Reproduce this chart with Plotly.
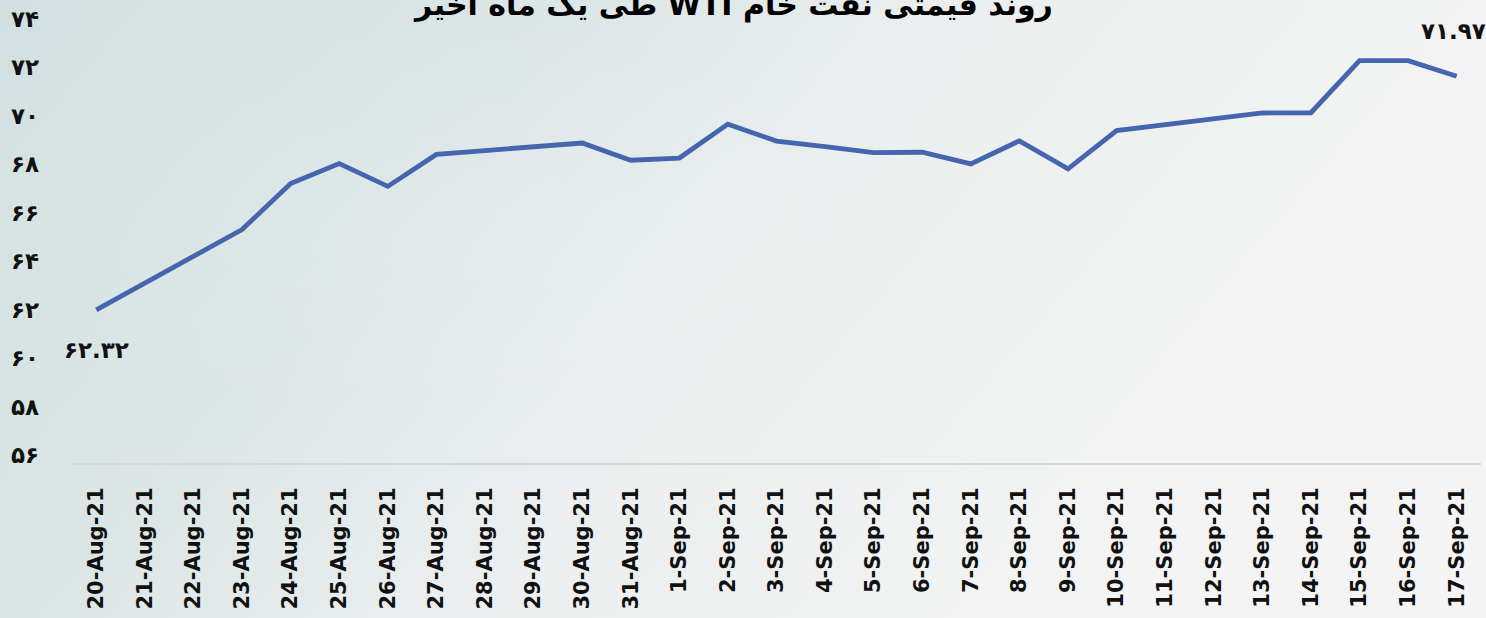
import base64
import plotly.graph_objects as go

# ---- data ----
dates = ["20-Aug-21", "21-Aug-21", "22-Aug-21", "23-Aug-21", "24-Aug-21", "25-Aug-21",
         "26-Aug-21", "27-Aug-21", "28-Aug-21", "29-Aug-21", "30-Aug-21", "31-Aug-21",
         "1-Sep-21", "2-Sep-21", "3-Sep-21", "4-Sep-21", "5-Sep-21", "6-Sep-21",
         "7-Sep-21", "8-Sep-21", "9-Sep-21", "10-Sep-21", "11-Sep-21", "12-Sep-21",
         "13-Sep-21", "14-Sep-21", "15-Sep-21", "16-Sep-21", "17-Sep-21"]
prices = [62.32, 63.43, 64.54, 65.64, 67.54, 68.36,
          67.42, 68.74, 68.90, 69.05, 69.21, 68.50,
          68.59, 69.99, 69.29, 69.06, 68.81, 68.83,
          68.35, 69.30, 68.14, 69.72, 69.96, 70.21,
          70.45, 70.46, 72.61, 72.61, 71.97]
y_ticks = [56, 58, 60, 62, 64, 66, 68, 70, 72, 74]
title_text = "روند قیمتی نفت خام WTI طی یک ماه اخیر"

FA = str.maketrans("0123456789", "۰۱۲۳۴۵۶۷۸۹")


def fa(s):
    return str(s).translate(FA)


def rtl(s):
    return "\u202B" + s + "\u202C"


W, H = 1486, 618
ML, MR, MT, MB = 72, 5, 27, 155
PW, PH = W - ML - MR, H - MT - MB

svg = f'''<svg xmlns="http://www.w3.org/2000/svg" width="{W}" height="{H}">
<defs>
<linearGradient id="g" x1="0" y1="0" x2="1" y2="0.35">
<stop offset="0" stop-color="#d0e0e0"/>
<stop offset="0.35" stop-color="#dde6e6"/>
<stop offset="0.6" stop-color="#ecefef"/>
<stop offset="1" stop-color="#f4f4f4"/>
</linearGradient>
<radialGradient id="r" cx="0.28" cy="0.35" r="0.35">
<stop offset="0" stop-color="#ffffff" stop-opacity="0.10"/>
<stop offset="1" stop-color="#ffffff" stop-opacity="0"/>
</radialGradient>
</defs>
<rect width="{W}" height="{H}" fill="url(#g)"/>
<rect width="{W}" height="{H}" fill="url(#r)"/>
</svg>'''
bg_uri = "data:image/svg+xml;base64," + base64.b64encode(svg.encode()).decode()

fig = go.Figure()
fig.add_trace(go.Scatter(
    x=dates, y=prices, mode="lines",
    line=dict(color="#4565ae", width=4.8),
    hoverinfo="x+y", showlegend=False,
))

lab_font = dict(family="DejaVu Sans", size=23, color="#111111", weight="bold")
annotations = []
for t in y_ticks:
    annotations.append(dict(
        x=0, xref="paper", xanchor="right", xshift=-31,
        y=t, yref="y", yanchor="middle", yshift=8,
        text=fa(t), showarrow=False, font=lab_font,
    ))

annotations.append(dict(
    x=dates[0], y=prices[0], xref="x", yref="y", yshift=-40,
    text=fa(f"{prices[0]:.2f}"), showarrow=False, font=lab_font,
))
annotations.append(dict(
    x=dates[-1], y=prices[-1], xref="x", yref="y", yshift=45, xshift=-3,
    text=fa(f"{prices[-1]:.2f}"), showarrow=False, font=lab_font,
))

annotations.append(dict(
    x=0.5 + (733 - (ML + PW / 2)) / PW, xref="paper", y=1, yref="paper",
    yshift=MT - 5, yanchor="middle",
    text=rtl(title_text), showarrow=False,
    font=dict(family="DejaVu Sans", size=30, color="#000000", weight="bold"),
))

fig.update_layout(
    width=W, height=H,
    margin=dict(l=ML, r=MR, t=MT, b=MB, pad=0),
    paper_bgcolor="#eaeeee",
    plot_bgcolor="rgba(0,0,0,0)",
    images=[dict(
        source=bg_uri, xref="paper", yref="paper",
        x=-ML / PW, y=1 + MT / PH, sizex=W / PW, sizey=H / PH,
        xanchor="left", yanchor="top", sizing="stretch", layer="below",
    )],
    annotations=annotations,
    xaxis=dict(
        type="category", range=[-0.5, len(dates) - 0.5],
        showgrid=False, zeroline=False,
        showline=True, linecolor="#d6d9d9", linewidth=2,
        ticks="", tickangle=-90, ticklabelstandoff=14,
        tickfont=dict(family="DejaVu Sans", size=21, color="#111111", weight="bold"),
    ),
    yaxis=dict(
        range=[56, 74], showgrid=False, zeroline=False, showline=False,
        showticklabels=False, ticks="",
    ),
)

fig.write_html("out.html",
               config={"displayModeBar": False},
               post_script="document.body.style.margin='0';document.body.style.overflow='hidden';")
